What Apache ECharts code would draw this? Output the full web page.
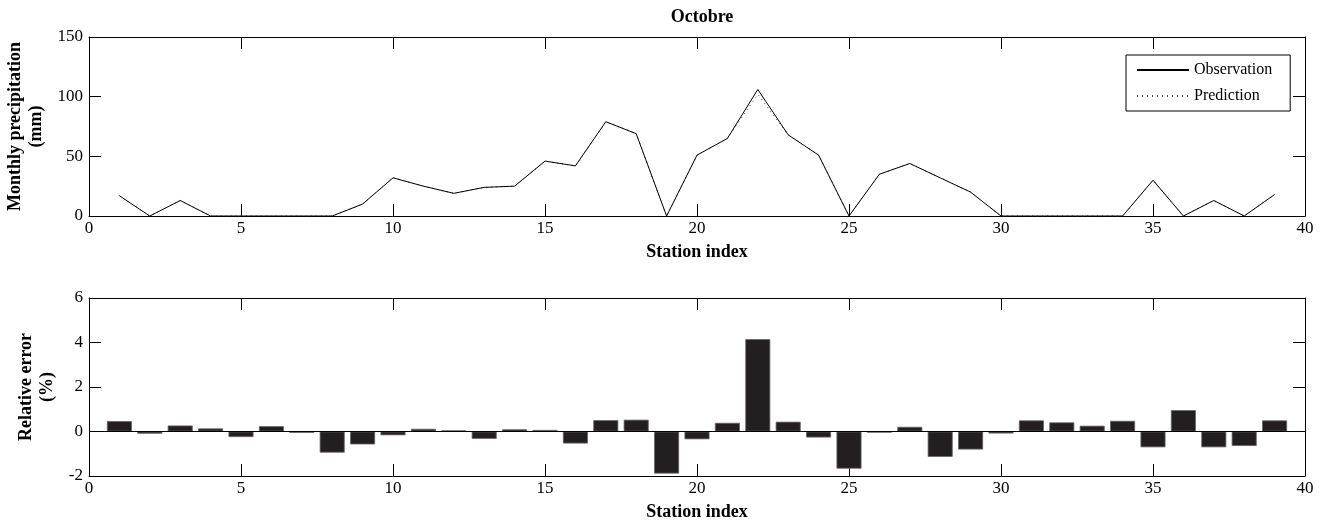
<!DOCTYPE html>
<html>
<head>
<meta charset="utf-8">
<script src="https://cdn.jsdelivr.net/npm/echarts@6/dist/echarts.min.js"></script>
<style>html,body{margin:0;padding:0;background:#fff}#c{width:1328px;height:531px}</style>
</head>
<body>
<div id="c"></div>
<script>
const stations = [1,2,3,4,5,6,7,8,9,10,11,12,13,14,15,16,17,18,19,20,21,22,23,24,25,26,27,28,29,30,31,32,33,34,35,36,37,38,39];
const observation = [17,0,13,0,0,0,0,0,10,32,25,19,24,25,46,42,79,69,0,51,65,106,68,51,0,35,44,32,20,0,0,0,0,0,30,0,13,0,18];
const prediction  = [17,0,13,0,0,0,0,0,10,32,25,19,24,25,46,42,79,69,0,51,65,102,68,51,0,35,44,32,20,0,0,0,0,0,30,0,13,0,18];
const relError = [0.47,-0.1,0.27,0.14,-0.25,0.24,-0.06,-0.95,-0.58,-0.17,0.12,0.05,-0.33,0.1,0.07,-0.54,0.51,0.53,-1.89,-0.35,0.39,4.15,0.44,-0.27,-1.67,-0.05,0.21,-1.14,-0.81,-0.09,0.5,0.41,0.26,0.48,-0.71,0.96,-0.71,-0.65,0.5];
const titleText = 'Octobre';
const xName = 'Station index';
const yNameTop = 'Monthly precipitation\n(mm)';
const yNameBottom = 'Relative error\n(%)';

const FONT = '"Liberation Serif", "DejaVu Serif", serif';
const black = '#000';

function pairs(xs, ys){ return xs.map((x,i)=>[x, ys[i]]); }

function xAx(grid, bottom){
  return {
    type:'value', gridIndex:grid, min:0, max:40, interval:5,
    position: bottom ? 'bottom' : 'top',
    name: bottom ? xName : '', nameLocation:'middle', nameGap:27,
    nameTextStyle:{fontFamily:FONT, fontWeight:'bold', fontSize:18, color:black},
    axisLine:{show:true, onZero:false, lineStyle:{color:black, width:1}},
    axisTick:{show:true, inside:true, length:12, lineStyle:{color:black}},
    axisLabel:{show:bottom, fontFamily:FONT, fontSize:17, color:black, margin:4},
    splitLine:{show:false}
  };
}
function yAx(grid, left, min, max, interval, name, gap){
  return {
    type:'value', gridIndex:grid, min:min, max:max, interval:interval,
    position: left ? 'left' : 'right',
    name: left ? name : '', nameLocation:'middle', nameGap:gap, nameRotate:90,
    nameTextStyle:{fontFamily:FONT, fontWeight:'bold', fontSize:18, color:black, lineHeight:21},
    axisLine:{show:true, onZero:false, lineStyle:{color:black, width:1}},
    axisTick:{show:true, inside:true, length:12, lineStyle:{color:black}},
    axisLabel:{show:left, fontFamily:FONT, fontSize:17, color:black, margin:6},
    splitLine:{show:false}
  };
}

const chart = echarts.init(document.getElementById('c'), null, {renderer:'canvas'});
chart.setOption({
  backgroundColor:'#fff',
  animation:false,
  title:{text:titleText, left:697, textAlign:'center', top:3,
    textStyle:{fontFamily:FONT, fontWeight:'bold', fontSize:18, color:black}},
  legend:{
    data:['Observation','Prediction'], orient:'vertical',
    left:1126, top:55,
    borderColor:black, borderWidth:1, padding:[7,18,7,10],
    itemWidth:52, itemHeight:14, itemGap:10,
    itemStyle:{opacity:0},
    textStyle:{fontFamily:FONT, fontSize:16, color:black},
    backgroundColor:'#fff'
  },
  grid:[
    {left:89, right:23, top:37, height:179, outerBoundsMode:'none', containLabel:false},
    {left:89, right:23, top:298, height:178, outerBoundsMode:'none', containLabel:false}
  ],
  xAxis:[xAx(0,true), xAx(0,false), xAx(1,true), xAx(1,false)],
  yAxis:[
    yAx(0,true,0,150,50,yNameTop,40), yAx(0,false,0,150,50,'',0),
    yAx(1,true,-2,6,2,yNameBottom,31), yAx(1,false,-2,6,2,'',0)
  ],
  series:[
    {name:'Observation', type:'line', xAxisIndex:0, yAxisIndex:0,
     data:pairs(stations, observation), showSymbol:false, symbol:'none',
     lineStyle:{color:black, width:1}, itemStyle:{color:black}, z:3},
    {name:'Prediction', type:'line', xAxisIndex:0, yAxisIndex:0,
     data:pairs(stations, prediction), showSymbol:false, symbol:'none',
     lineStyle:{color:'#444', width:1, type:[1,4]}, itemStyle:{color:'#444'}, z:2},
    {name:'Relative error', type:'bar', xAxisIndex:2, yAxisIndex:2,
     data:pairs(stations, relError), barWidth:25,
     itemStyle:{color:'#231f20', borderColor:'#666', borderWidth:0.8},
     markLine:{silent:true, symbol:'none', label:{show:false},
       lineStyle:{color:black, type:'solid', width:1},
       data:[{yAxis:0}]}}
  ]
});
</script>
</body>
</html>
